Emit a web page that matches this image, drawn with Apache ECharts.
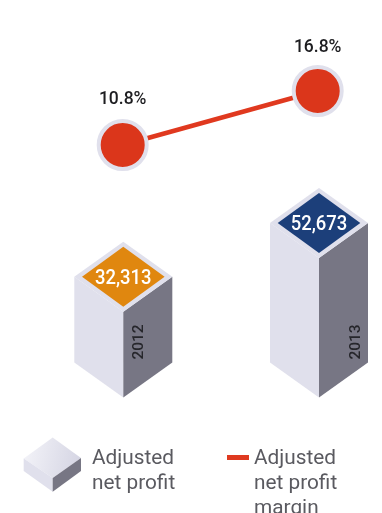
<!DOCTYPE html>
<html><head><meta charset="utf-8">
<style>html,body{margin:0;padding:0;background:#fff}#c{width:382px;height:513px}</style>
<script src="https://cdn.jsdelivr.net/npm/echarts@6/dist/echarts.min.js"></script>
</head><body><div id="c"></div>
<script>
const categories = ['2012', '2013'];
const netProfit = [32313, 52673];
const netProfitLabels = ['32,313', '52,673'];
const margin = [10.8, 16.8];
const topColors = ['#E0870F', '#1C3F7A'];
const yearOffsets = [16, 37.5];
const labelGaps = [10.5, 8.5];
const legendNames = ['Adjusted\nnet profit', 'Adjusted\nnet profit\nmargin'];

const FACE_L = '#E0E0EC', FACE_R = '#777684', RED = '#DB361B';
const FONT = 'Roboto, sans-serif';

function renderBox(params, api) {
  const i = api.value(0);
  const base = api.coord([i, 0]);
  const top = api.coord([i, api.value(1)]);
  const cx = base[0], by = base[1], ty = top[1];
  const hw = 49, hh = 35;
  const poly = (pts, fill) => ({type: 'polygon', shape: {points: pts}, style: {fill: fill}});
  return {
    type: 'group',
    children: [
      poly([[cx - hw, ty - hh], [cx, ty], [cx, by], [cx - hw, by - hh]], FACE_L),
      poly([[cx, ty], [cx + hw, ty - hh], [cx + hw, by - hh], [cx, by]], FACE_R),
      poly([[cx - hw, ty - hh], [cx, ty - 2 * hh], [cx + hw, ty - hh], [cx, ty]], FACE_L),
      poly([[cx - 41.3, ty - hh], [cx, ty - hh - 30], [cx + 41.3, ty - hh], [cx, ty - hh + 30]], topColors[i]),
      {type: 'text', x: cx, y: ty - hh + 1.5, scaleX: 0.88, style: {text: netProfitLabels[i], fill: '#fff', font: '500 21px ' + FONT, align: 'center', verticalAlign: 'middle'}},
      {type: 'text', x: cx + yearOffsets[i], y: by - 55.5, rotation: Math.PI / 2, style: {text: categories[i], fill: '#26262b', font: '500 15.5px ' + FONT, align: 'center', verticalAlign: 'middle'}}
    ]
  };
}

const legendText = (x, y, text) => ({type: 'text', x: x, y: y, scaleX: 1.04, style: {text: text, fill: '#5a5a60', font: '400 20px ' + FONT, lineHeight: 25, align: 'left', verticalAlign: 'top'}});

const chart = echarts.init(document.getElementById('c'), null, {renderer: 'canvas'});
chart.setOption({
  backgroundColor: '#fff',
  animation: false,
  grid: [
    {left: 123.3, width: 195.7, top: 238.5, height: 159},
    {left: 122.7, width: 195, top: 62.2, height: 90}
  ],
  xAxis: [
    {type: 'category', data: categories, boundaryGap: false, gridIndex: 0, show: false},
    {type: 'category', data: categories, boundaryGap: false, gridIndex: 1, show: false}
  ],
  yAxis: [
    {type: 'value', min: 0, max: 60000, gridIndex: 0, show: false},
    {type: 'value', min: 10, max: 20, gridIndex: 1, show: false}
  ],
  series: [
    {
      type: 'custom', name: 'Adjusted net profit', xAxisIndex: 0, yAxisIndex: 0, clip: false,
      renderItem: renderBox,
      encode: {x: 0, y: 1},
      data: netProfit.map((v, i) => [i, v])
    },
    {
      type: 'line', name: 'Adjusted net profit margin', xAxisIndex: 1, yAxisIndex: 1,
      data: margin.map((v, i) => ({value: v, label: {distance: labelGaps[i]}})),
      symbol: 'circle', symbolSize: 48,
      lineStyle: {color: '#E0391F', width: 4.5},
      itemStyle: {color: RED, borderColor: '#E0E0EC', borderWidth: 4},
      label: {show: true, position: 'top', color: '#1d1d20', fontFamily: 'Roboto, sans-serif', fontSize: 17.5, fontWeight: 500, formatter: p => p.value.toFixed(1) + '%'}
    }
  ],
  graphic: [
    {type: 'polygon', shape: {points: [[23.7, 458.5], [52.7, 437.5], [81, 458], [52.7, 478]]},
      style: {fill: new echarts.graphic.LinearGradient(0, 0, 1, 0.3, [{offset: 0, color: '#F4F4F9'}, {offset: 1, color: '#D6D6E4'}])}},
    {type: 'polygon', shape: {points: [[23.7, 458.5], [52.7, 478], [52.7, 491.7], [23.7, 471]]}, style: {fill: FACE_L}},
    {type: 'polygon', shape: {points: [[52.7, 478], [81, 458], [81, 471], [52.7, 491.7]]}, style: {fill: FACE_R}},
    {type: 'rect', shape: {x: 227, y: 455, width: 22, height: 5}, style: {fill: '#DF3A20'}},
    legendText(92, 446.5, legendNames[0]),
    legendText(254, 446.5, legendNames[1])
  ]
});
</script></body></html>
